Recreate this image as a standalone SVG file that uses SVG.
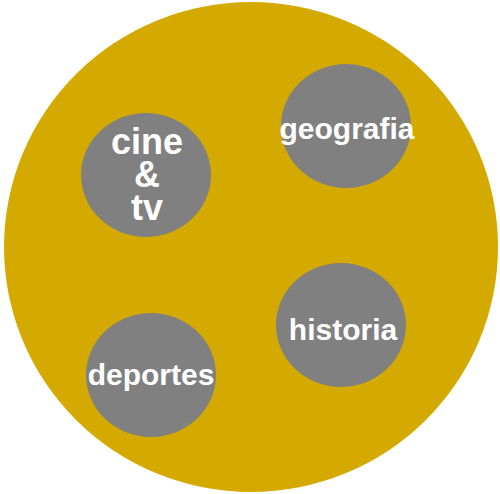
<svg xmlns="http://www.w3.org/2000/svg" width="500" height="494" viewBox="0 0 500 494">
<style>
.bg{fill:#d4aa00}
.n{fill:#808080}
.t{fill:#ffffff;font-family:"Liberation Sans",Arial,sans-serif;font-weight:bold;font-size:30px;text-anchor:middle}
.big{font-size:36px}
</style>
<rect width="500" height="494" fill="#ffffff"/>
<g id="universe"><ellipse class="bg" cx="251" cy="247" rx="247" ry="245"/></g>
<g id="connectors"></g>
<g id="cine-tv"><ellipse class="n" cx="146" cy="175" rx="65" ry="62"/>
<text class="t big" x="147" y="154">cine</text>
<text class="t big" x="147" y="187">&amp;</text>
<text class="t big" x="147" y="220">tv</text></g>
<g id="geografia"><ellipse class="n" cx="346" cy="126" rx="65" ry="62"/>
<text class="t" x="347" y="139">geografia</text></g>
<g id="historia"><ellipse class="n" cx="341" cy="325" rx="65" ry="62"/>
<text class="t" x="343" y="340">historia</text></g>
<g id="deportes"><ellipse class="n" cx="151" cy="375" rx="65" ry="62"/>
<text class="t" x="151" y="385">deportes</text></g>
</svg>
